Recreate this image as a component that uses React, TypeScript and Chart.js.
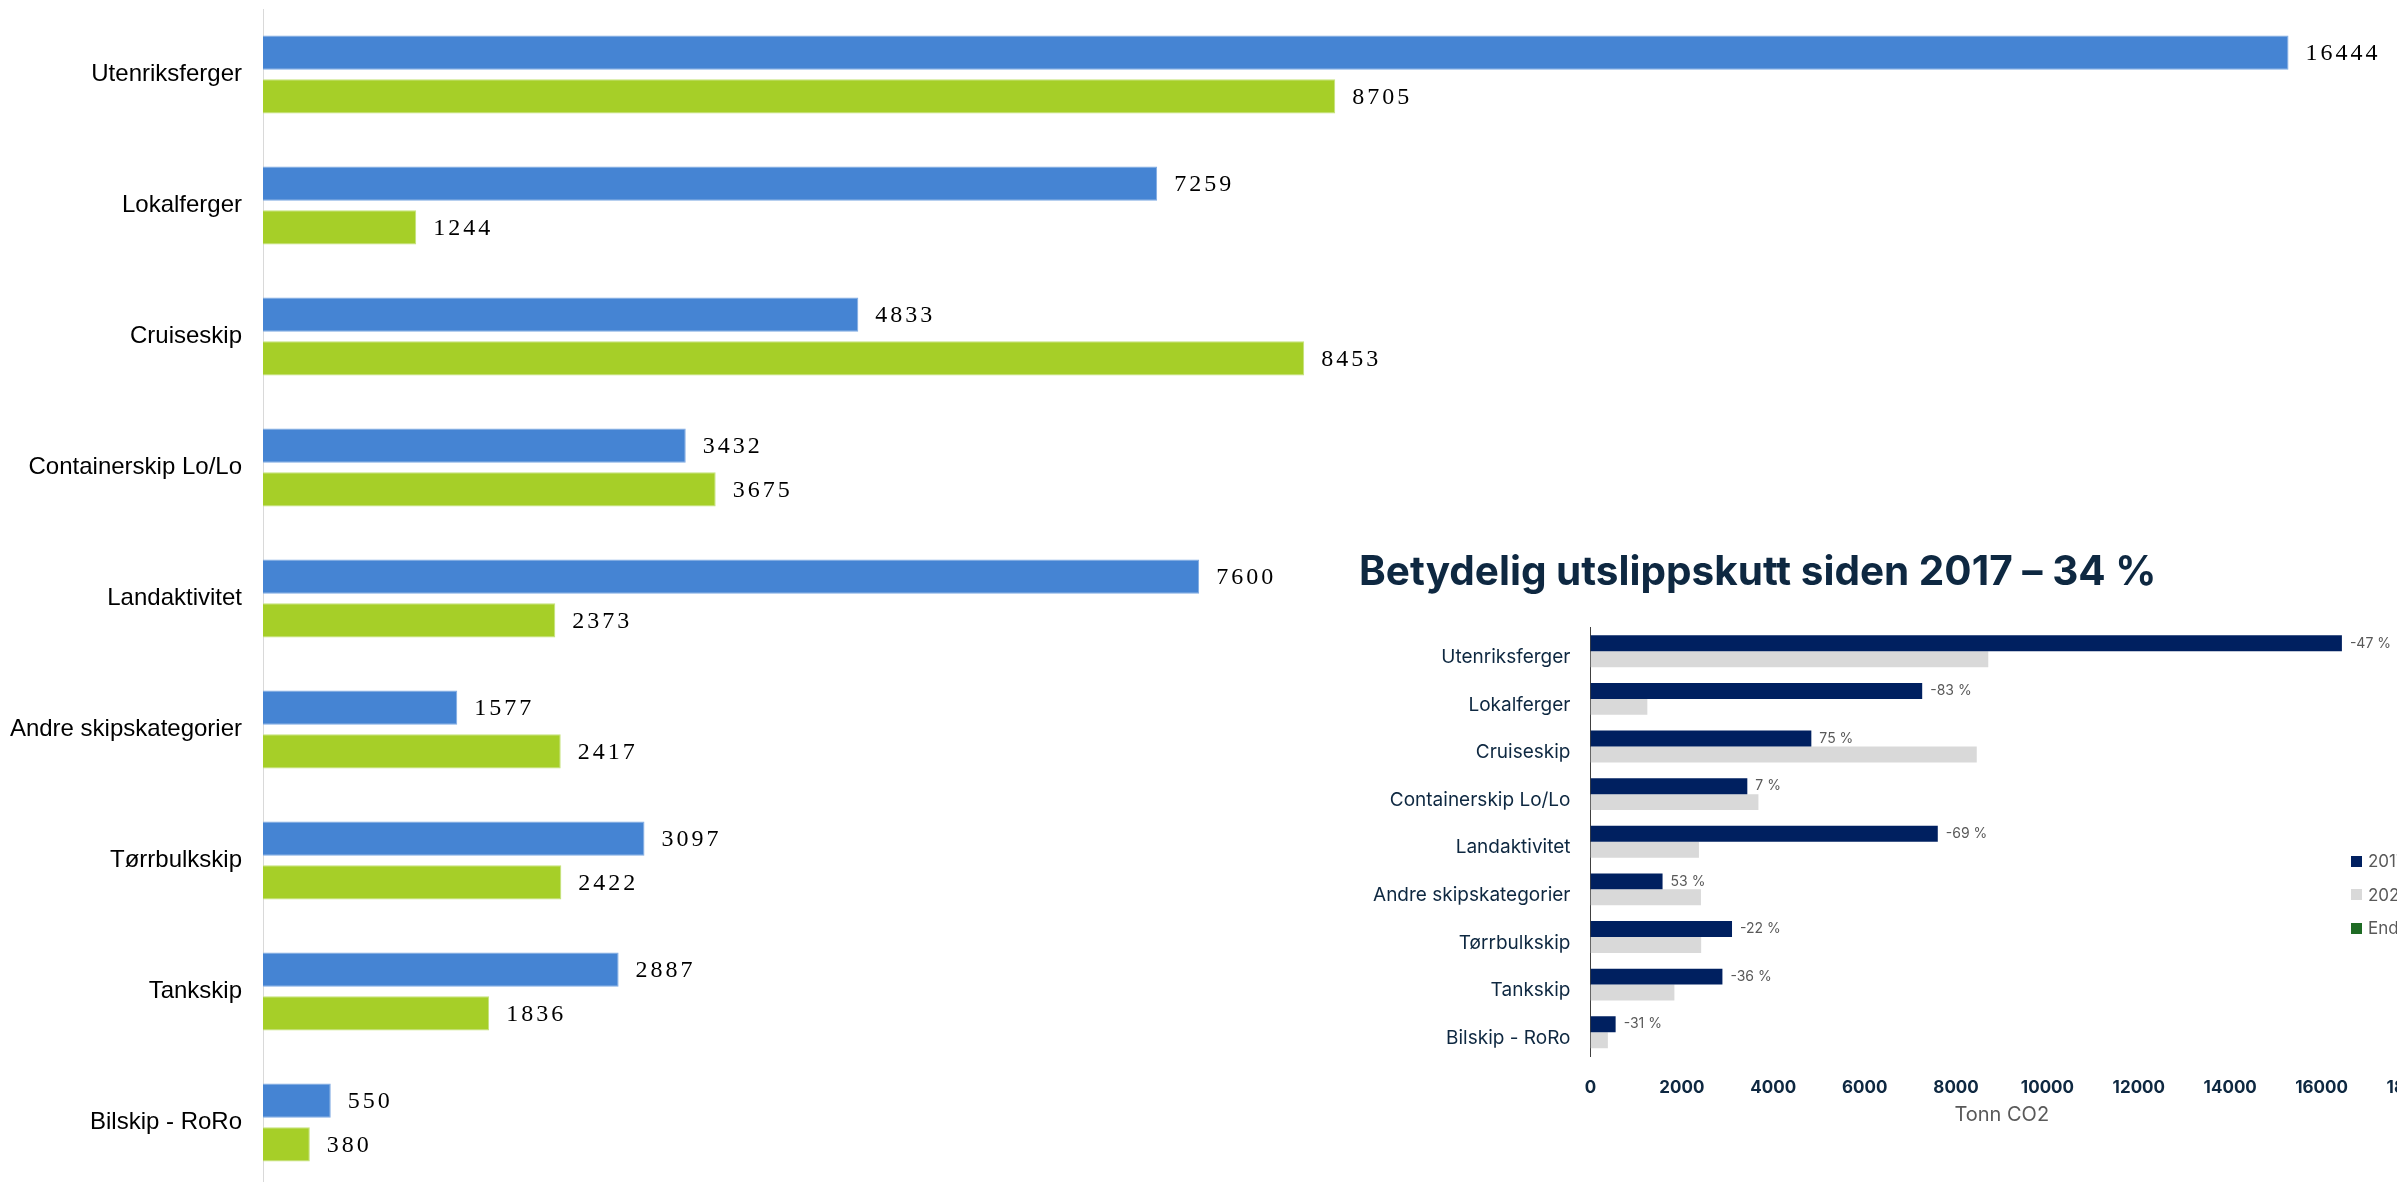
import React, { useEffect, useRef } from 'react';
import { Chart, registerables } from 'chart.js';

Chart.register(...registerables);

const categories = [
  'Utenriksferger',
  'Lokalferger',
  'Cruiseskip',
  'Containerskip Lo/Lo',
  'Landaktivitet',
  'Andre skipskategorier',
  'Tørrbulkskip',
  'Tankskip',
  'Bilskip - RoRo',
];
const values2017 = [16444, 7259, 4833, 3432, 7600, 1577, 3097, 2887, 550];
const values2024 = [8705, 1244, 8453, 3675, 2373, 2417, 2422, 1836, 380];
const changePct = [-47, -83, 75, 7, -69, 53, -22, -36, -31];

const insetTitle = 'Betydelig utslippskutt siden 2017 – 34 %';
const insetAxisTitle = 'Tonn CO2';
const legendLabels = ['2017', '2024', 'Endring'];
const legendColors = ['#002060', '#D9D9D9', '#1E6B24'];

const zeroPadding = (s: any) => {
  s.paddingTop = 0;
  s.paddingBottom = 0;
  s.paddingLeft = 0;
  s.paddingRight = 0;
};

const mainValueLabels = {
  id: 'mainValueLabels',
  afterDatasetsDraw(chart: any) {
    const ctx = chart.ctx;
    ctx.save();
    ctx.font = '24px "Liberation Serif", "Times New Roman", serif';
    ctx.fillStyle = '#000000';
    ctx.textAlign = 'left';
    ctx.textBaseline = 'middle';
    try { (ctx as any).letterSpacing = '3px'; } catch (e) {}
    chart.data.datasets.forEach((ds: any, di: number) => {
      const meta = chart.getDatasetMeta(di);
      meta.data.forEach((el: any, i: number) => {
        ctx.fillText(String(ds.data[i]), el.x + 17, el.y + 1);
      });
    });
    ctx.restore();
  },
};

const insetPctLabels = {
  id: 'insetPctLabels',
  afterDatasetsDraw(chart: any) {
    const ctx = chart.ctx;
    ctx.save();
    ctx.font = '14px Inter, "Noto Sans", sans-serif';
    ctx.fillStyle = '#595959';
    ctx.textAlign = 'left';
    ctx.textBaseline = 'middle';
    const meta = chart.getDatasetMeta(0);
    meta.data.forEach((el: any, i: number) => {
      ctx.fillText(`${changePct[i]} %`, el.x + 8, el.y);
    });
    ctx.restore();
  },
};

export default function App() {
  const mainRef = useRef<HTMLCanvasElement | null>(null);
  const insetRef = useRef<HTMLCanvasElement | null>(null);

  useEffect(() => {
    if (!mainRef.current || !insetRef.current) return;
    const main = new Chart(mainRef.current, {
      type: 'bar',
      data: {
        labels: categories,
        datasets: [
          {
            label: '2017',
            data: values2017,
            backgroundColor: '#4584D3',
            borderColor: '#7FAAE2',
            borderWidth: 1,
            categoryPercentage: 0.667,
            barPercentage: 0.785,
          },
          {
            label: '2024',
            data: values2024,
            backgroundColor: '#A6CF28',
            borderColor: '#C4E27A',
            borderWidth: 1,
            categoryPercentage: 0.667,
            barPercentage: 0.785,
          },
        ],
      },
      options: {
        indexAxis: 'y',
        responsive: false,
        animation: false,
        layout: { padding: { top: 9, right: 40, bottom: 0, left: 0 } },
        plugins: {
          legend: { display: false },
          tooltip: { enabled: false },
        },
        scales: {
          x: { display: false, min: 0, max: 17000 },
          y: {
            afterFit: (s: any) => { s.width = 263; zeroPadding(s); },
            grid: { display: false, drawTicks: false },
            border: { display: true, color: '#D9D9D9', width: 1 },
            ticks: {
              padding: 21,
              color: '#000000',
              font: { family: '"Liberation Sans", Arial, sans-serif', size: 24 },
            },
          },
        },
      },
      plugins: [mainValueLabels],
    } as any);

    const inset = new Chart(insetRef.current, {
      type: 'bar',
      data: {
        labels: categories,
        datasets: [
          {
            label: legendLabels[0],
            data: values2017,
            backgroundColor: '#002060',
            borderWidth: 0,
            categoryPercentage: 0.67,
            barPercentage: 1.0,
          },
          {
            label: legendLabels[1],
            data: values2024,
            backgroundColor: '#D9D9D9',
            borderWidth: 0,
            categoryPercentage: 0.67,
            barPercentage: 1.0,
          },
        ],
      },
      options: {
        indexAxis: 'y',
        responsive: false,
        animation: false,
        layout: { padding: { top: 0, right: 30, bottom: 0, left: 0 } },
        plugins: {
          legend: { display: false },
          tooltip: { enabled: false },
          title: {
            display: true,
            text: insetTitle,
            align: 'start',
            color: '#0E2841',
            font: { family: 'Inter, "Noto Sans", sans-serif', weight: 'bold', size: 40.5, lineHeight: 1 },
            padding: { top: 33, bottom: 34 },
          },
        },
        scales: {
          x: {
            min: 0,
            max: 18000,
            afterFit: (s: any) => { s.height = 71; zeroPadding(s); },
            grid: { display: false, drawTicks: false },
            border: { display: false },
            ticks: {
              stepSize: 2000,
              autoSkip: false,
              maxRotation: 0,
              padding: 21.5,
              color: '#0E2841',
              font: { family: 'Inter, "Noto Sans", sans-serif', weight: 'bold', size: 17 },
              callback: (v: any) => String(v),
            },
            title: {
              display: true,
              text: insetAxisTitle,
              color: '#595959',
              font: { family: 'Inter, "Noto Sans", sans-serif', size: 20 },
              padding: { top: 0, bottom: 0 },
            },
          },
          y: {
            afterFit: (s: any) => { s.width = 231.5; zeroPadding(s); },
            grid: { display: false, drawTicks: false },
            border: { display: true, color: '#404040', width: 1 },
            ticks: {
              padding: 20,
              labelOffset: 6,
              color: '#0E2841',
              font: { family: 'Inter, "Noto Sans", sans-serif', size: 19 },
            },
          },
        },
      },
      plugins: [insetPctLabels],
    } as any);

    return () => {
      main.destroy();
      inset.destroy();
    };
  }, []);

  return (
    <div
      style={{
        position: 'fixed',
        left: 0,
        top: 0,
        width: '100vw',
        height: '100vh',
        overflow: 'hidden',
        background: '#ffffff',
      }}
    >
      <canvas
        ref={mainRef}
        width={2397}
        height={1188}
        style={{ position: 'absolute', left: 0, top: 0, width: 2397, height: 1188 }}
      />
      <canvas
        ref={insetRef}
        width={1084}
        height={607}
        style={{ position: 'absolute', left: 1359, top: 520, width: 1084, height: 607 }}
      />
      {legendLabels.map((lab, i) => (
        <div
          key={lab}
          style={{
            position: 'absolute',
            left: 2351,
            top: 849 + i * 33.5,
            height: 24,
            display: 'flex',
            alignItems: 'center',
            whiteSpace: 'nowrap',
            fontFamily: 'Inter, "Noto Sans", sans-serif',
            fontSize: 17,
            color: '#595959',
          }}
        >
          <span
            style={{
              display: 'inline-block',
              width: 11,
              height: 11,
              background: legendColors[i],
              marginRight: 6,
            }}
          />
          <span>{lab}</span>
        </div>
      ))}
    </div>
  );
}
